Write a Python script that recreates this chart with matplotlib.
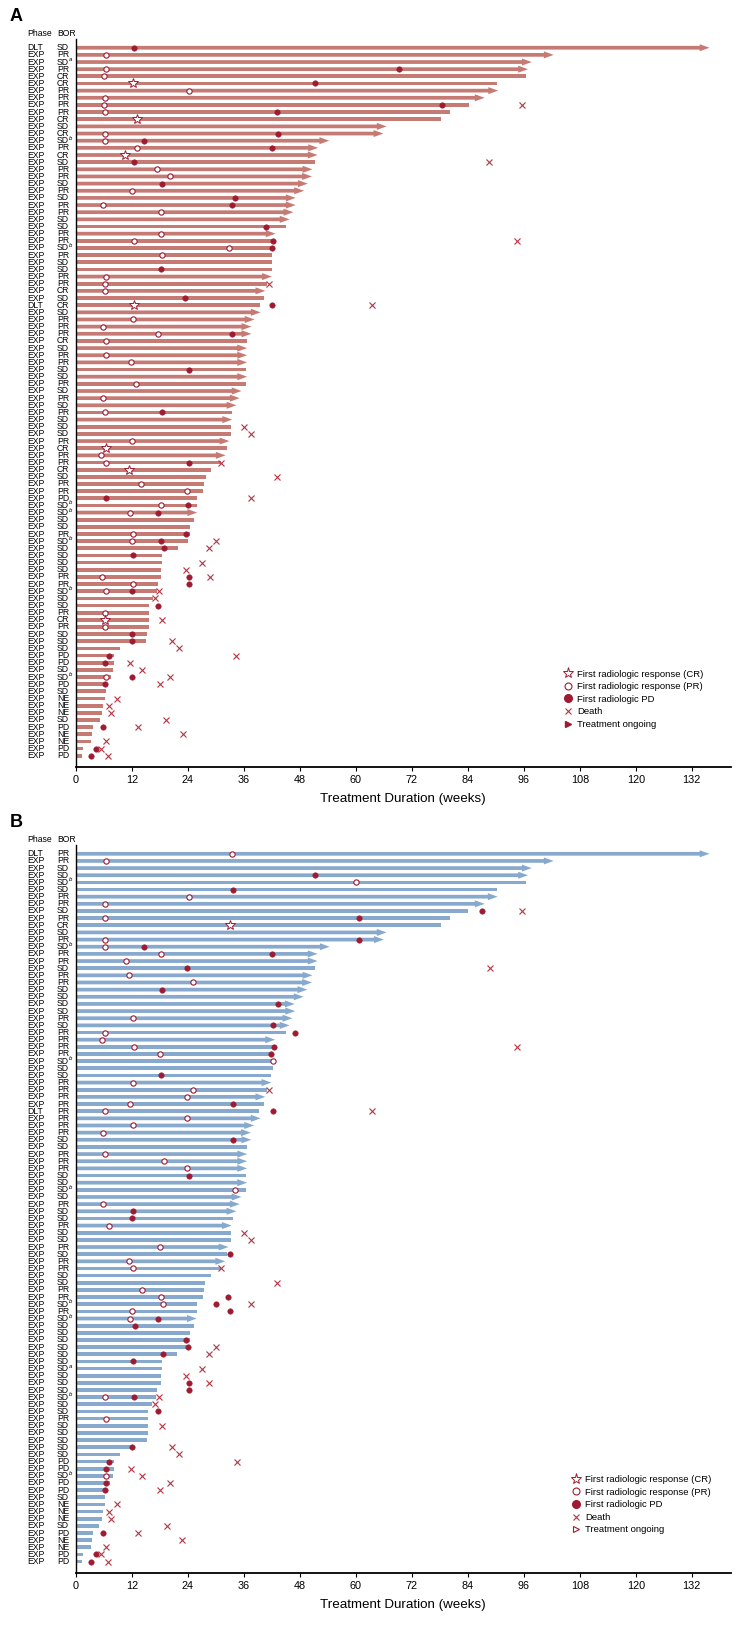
import numpy as np
import matplotlib
matplotlib.use('Agg')
import matplotlib.pyplot as plt
from matplotlib.lines import Line2D

plt.rcParams['font.family'] = ['Liberation Sans', 'DejaVu Sans']

#==========================================================================
# Data (rows top to bottom, weeks)
#==========================================================================

phase_a = ['DLT'] + ['EXP'] * 35 + ['DLT'] + ['EXP'] * 63
bor_a = ['SD', 'PR', 'SD^a', 'PR', 'CR', 'CR', 'PR', 'PR', 'PR', 'PR',
         'CR', 'SD', 'CR', 'SD^b', 'PR', 'CR', 'SD', 'PR', 'PR', 'SD',
         'PR', 'SD', 'PR', 'PR', 'SD', 'SD', 'PR', 'PR', 'SD^b', 'PR',
         'SD', 'SD', 'PR', 'PR', 'CR', 'SD', 'CR', 'SD', 'PR', 'PR',
         'PR', 'CR', 'SD', 'PR', 'PR', 'SD', 'SD', 'PR', 'SD', 'PR',
         'SD', 'PR', 'SD', 'SD', 'SD', 'PR', 'CR', 'PR', 'PR', 'CR',
         'SD', 'PR', 'PR', 'PD', 'SD^b', 'SD^b', 'SD', 'SD', 'PR', 'SD^b',
         'SD', 'SD', 'SD', 'SD', 'PR', 'PR', 'SD^b', 'SD', 'SD', 'PR',
         'CR', 'PR', 'SD', 'SD', 'SD', 'PD', 'PD', 'SD', 'SD^b', 'PD',
         'SD', 'NE', 'NE', 'NE', 'SD', 'PD', 'NE', 'NE', 'PD', 'PD']
dur_a = [135.8, 102.4, 97.7, 96.9, 96.4, 90.3, 90.5, 87.6, 84.2, 80.1,
         78.3, 66.6, 65.9, 54.3, 51.9, 51.8, 51.2, 50.7, 50.6, 49.7,
         48.9, 47.1, 47.1, 46.6, 45.8, 45.0, 42.8, 42.0, 41.9, 42.1,
         42.1, 42.0, 42.0, 41.0, 40.6, 40.4, 39.4, 39.6, 38.3, 37.6,
         37.6, 36.7, 36.7, 36.7, 36.7, 36.4, 36.7, 36.4, 35.5, 35.1,
         34.4, 33.5, 33.5, 33.2, 33.3, 32.9, 32.4, 32.1, 31.0, 28.9,
         27.8, 27.4, 27.2, 26.0, 25.9, 26.0, 25.4, 24.4, 24.4, 24.1,
         21.8, 18.4, 18.4, 18.3, 18.3, 17.5, 17.4, 16.6, 15.6, 15.6,
         15.6, 15.6, 15.3, 15.1, 9.4, 8.1, 8.1, 7.9, 7.5, 6.4,
         6.4, 6.3, 5.9, 5.5, 5.1, 3.6, 3.4, 3.2, 1.6, 1.4]
ongoing_a = [1, 1, 1, 1, 0, 0, 1, 1, 0, 0,
             0, 1, 1, 1, 1, 1, 0, 1, 1, 1,
             1, 1, 1, 1, 1, 0, 1, 0, 0, 0,
             0, 0, 1, 0, 1, 0, 0, 1, 1, 1,
             1, 0, 1, 1, 1, 0, 1, 0, 1, 1,
             1, 0, 1, 0, 0, 1, 0, 1, 0, 0,
             0, 0, 0, 0, 0, 1, 0, 0, 0, 0] + [0] * 30
# events keyed by row number (1 = top row)
cr_a = {6: 12.3, 11: 13.0, 16: 10.6, 37: 12.4, 57: 6.4, 60: 11.4, 81: 6.2}
pr_a = {2: 6.4, 4: 6.5, 5: 6.0, 7: 24.2, 8: 6.2, 9: 6.1, 10: 6.2, 13: 6.3,
        14: 6.2, 15: 13.2, 18: 17.4, 19: 20.1, 21: 12.1, 23: 5.8, 24: 18.3,
        27: 18.2, 28: 12.5, 29: 32.9, 30: 18.4, 33: 6.4, 34: 6.3, 35: 6.2,
        39: 12.3, 40: 5.8, 41: 17.6, 42: 6.5, 44: 6.4, 45: 11.9, 48: 12.8,
        50: 5.9, 52: 6.3, 56: 12.1, 58: 5.3, 59: 6.4, 62: 14.0, 63: 23.9,
        65: 18.2, 66: 11.6, 69: 12.2, 70: 12.1, 75: 5.5, 76: 12.2, 77: 6.4,
        80: 6.3, 82: 6.2, 89: 6.4}
pd_a = {1: 12.4, 4: 69.2, 6: 51.2, 9: 78.5, 10: 43.1, 13: 43.3, 14: 14.5,
        15: 42.1, 17: 12.4, 20: 18.4, 22: 34.1, 23: 33.5, 26: 40.8, 28: 42.3,
        29: 42.0, 32: 18.3, 36: 23.3, 37: 42.0, 41: 33.5, 46: 24.3, 52: 18.4,
        59: 24.2, 64: 6.5, 65: 24.1, 66: 17.6, 69: 23.7, 70: 18.3, 71: 18.8,
        72: 12.3, 75: 24.2, 76: 24.2, 77: 12.0, 79: 17.6, 83: 12.1, 84: 12.1,
        86: 7.2, 87: 6.3, 89: 12.1, 90: 6.2, 96: 5.9, 99: 4.3, 100: 3.3}
death_a = {9: 95.7, 17: 88.6, 28: 94.5, 34: 41.4, 37: 63.5, 54: 36.0, 55: 37.6,
           59: 31.2, 61: 43.1, 64: 37.6, 70: 30.1, 71: 28.5, 73: 27.0, 74: 23.6,
           75: 28.7, 77: 17.9, 78: 16.9, 81: 18.4, 84: 20.7, 85: 22.0, 86: 34.4,
           87: 11.7, 88: 14.1, 89: 20.1, 90: 18.1, 92: 8.8, 93: 7.2, 94: 7.5,
           95: 19.4, 96: 13.3, 97: 22.9, 98: 6.4, 99: 5.3, 100: 6.9}

phase_b = ['DLT'] + ['EXP'] * 35 + ['DLT'] + ['EXP'] * 63
bor_b = ['PR', 'PR', 'SD', 'SD', 'SD^b', 'SD', 'PR', 'PR', 'SD', 'PR',
         'CR', 'SD', 'PR', 'SD^b', 'PR', 'PR', 'SD', 'PR', 'PR', 'SD',
         'SD', 'SD', 'SD', 'PR', 'SD', 'PR', 'PR', 'PR', 'PR', 'SD^b',
         'SD', 'SD', 'PR', 'PR', 'PR', 'PR', 'PR', 'PR', 'PR', 'PR',
         'SD', 'SD', 'PR', 'PR', 'PR', 'SD', 'SD', 'SD^b', 'SD', 'PR',
         'SD', 'SD', 'PR', 'SD', 'SD', 'PR', 'SD', 'PR', 'PR', 'SD',
         'SD', 'PR', 'PR', 'SD^b', 'PR', 'SD^b', 'SD', 'SD', 'SD', 'SD',
         'SD', 'SD', 'SD^a', 'SD', 'SD', 'SD', 'SD^b', 'SD', 'SD', 'PR',
         'SD', 'SD', 'SD', 'SD', 'SD', 'PD', 'PD', 'SD^b', 'PD', 'PD',
         'SD', 'NE', 'NE', 'NE', 'SD', 'PD', 'NE', 'NE', 'PD', 'PD']
dur_b = [135.8, 102.4, 97.7, 96.9, 96.4, 90.3, 90.4, 87.6, 84.1, 80.1,
         78.2, 66.6, 66.0, 54.4, 51.8, 51.8, 51.3, 50.7, 50.6, 49.6,
         48.8, 46.9, 47.0, 46.4, 45.8, 45.0, 42.7, 42.2, 41.9, 42.2,
         42.3, 41.9, 41.9, 41.0, 40.6, 40.3, 39.3, 39.6, 38.2, 37.5,
         37.6, 36.6, 36.7, 36.7, 36.7, 36.4, 36.7, 36.4, 35.5, 35.1,
         34.4, 33.6, 33.4, 33.2, 33.2, 32.7, 32.4, 32.0, 31.0, 28.9,
         27.7, 27.4, 27.2, 26.0, 25.9, 25.9, 25.4, 24.4, 24.4, 24.1,
         21.7, 18.4, 18.4, 18.2, 18.2, 17.4, 17.2, 16.4, 15.5, 15.5,
         15.5, 15.5, 15.3, 12.3, 9.4, 8.1, 8.1, 7.9, 7.4, 6.3,
         6.3, 6.3, 5.9, 5.5, 4.9, 3.6, 3.4, 3.2, 1.6, 1.4]
ongoing_b = [1, 1, 1, 1, 0, 0, 1, 1, 0, 0,
             0, 1, 1, 1, 1, 1, 0, 1, 1, 1,
             1, 1, 1, 1, 1, 0, 1, 0, 0, 0,
             0, 0, 1, 0, 1, 0, 0, 1, 1, 1,
             1, 0, 1, 1, 1, 0, 1, 0, 1, 1,
             1, 0, 1, 0, 0, 1, 0, 1, 0, 0,
             0, 0, 0, 0, 0, 1, 0, 0, 0, 0] + [0] * 30
cr_b = {11: 33.0}
pr_b = {1: 33.5, 2: 6.4, 5: 60.1, 7: 24.2, 8: 6.2, 10: 6.2, 13: 6.2, 14: 6.2,
        15: 18.3, 16: 10.8, 18: 11.3, 19: 25.2, 24: 12.3, 26: 6.2, 27: 5.5,
        28: 12.4, 29: 18.0, 30: 42.3, 33: 12.2, 34: 25.2, 35: 23.9, 36: 11.7,
        37: 6.3, 38: 23.8, 39: 12.3, 40: 5.8, 43: 6.3, 44: 18.8, 45: 23.9,
        48: 34.1, 50: 5.8, 53: 7.0, 56: 18.1, 58: 11.3, 59: 12.3, 62: 14.1,
        63: 18.3, 64: 18.7, 65: 12.1, 66: 11.5, 77: 6.3, 80: 6.4, 88: 6.4}
pd_b = {4: 51.3, 6: 33.7, 9: 87.0, 10: 60.7, 13: 60.6, 14: 14.5, 15: 42.1,
        17: 23.9, 20: 18.4, 22: 43.3, 25: 42.2, 26: 47.0, 28: 42.4, 29: 41.9,
        32: 18.3, 36: 33.7, 37: 42.3, 41: 33.6, 46: 24.3, 51: 12.2, 52: 12.0,
        57: 33.1, 63: 32.7, 64: 30.0, 65: 33.0, 66: 17.7, 67: 12.6, 69: 23.5,
        70: 24.1, 71: 18.7, 72: 12.3, 75: 24.3, 76: 24.3, 77: 12.4, 79: 17.6,
        84: 12.1, 86: 7.1, 87: 6.4, 89: 6.4, 90: 6.2, 96: 5.9, 99: 4.3, 100: 3.3}
death_b = {9: 95.6, 17: 88.8, 28: 94.6, 34: 41.4, 37: 63.4, 54: 36.0, 55: 37.5,
           59: 31.1, 61: 43.1, 64: 37.6, 70: 30.1, 71: 28.5, 73: 27.0, 74: 23.6,
           75: 28.6, 77: 17.9, 78: 16.9, 81: 18.4, 84: 20.6, 85: 22.0, 86: 34.5,
           87: 11.8, 88: 14.1, 89: 20.1, 90: 18.1, 92: 8.9, 93: 7.1, 94: 7.5,
           95: 19.5, 96: 13.3, 97: 22.7, 98: 6.5, 99: 5.4, 100: 6.8}

xticks = list(range(0, 133, 12))
legend_labels = ['First radiologic response (CR)', 'First radiologic response (PR)',
                 'First radiologic PD', 'Death', 'Treatment ongoing']

#==========================================================================
# Styles
#==========================================================================

RED = '#9E1B32'
XRED = '#B8323F'
BAR_H = 0.52
HEAD_W = 0.98
HEAD_L = 2.1
LAB_FS = 6.2


def draw_panel(ax, phase, bor, dur, ongoing, cr, pr, pdd, death, color, open_arrow):
    n = len(dur)
    y = np.arange(n)
    dur = np.array(dur)
    ong = np.array(ongoing, dtype=bool)

    ax.barh(y[~ong], dur[~ong], height=BAR_H, color=color, lw=0, zorder=1)
    for yi, d in zip(y[ong], dur[ong]):
        ax.arrow(0, yi, d, 0, width=BAR_H, head_width=HEAD_W, head_length=HEAD_L,
                 length_includes_head=True, fc=color, ec='none', lw=0, zorder=1)

    def pts(d):
        return list(d.values()), [k - 1 for k in d.keys()]

    xs, ys = pts(pr)
    ax.plot(xs, ys, 'o', ms=3.8, mfc='white', mec=RED, mew=0.8, ls='none', zorder=3)
    xs, ys = pts(cr)
    ax.plot(xs, ys, '*', ms=7.5, mfc='white', mec=RED, mew=0.7, ls='none', zorder=3)
    xs, ys = pts(pdd)
    ax.plot(xs, ys, 'o', ms=4.0, mfc=RED, mec=RED, mew=0.3, ls='none', zorder=4)
    xs, ys = pts(death)
    ax.plot(xs, ys, 'x', ms=4.3, mec=XRED, mew=0.8, ls='none', zorder=4)

    tr = ax.get_yaxis_transform()
    x_ph = -0.0747
    x_bor = -0.0289
    for i in range(n):
        ax.text(x_ph, i, phase[i], transform=tr, fontsize=LAB_FS, ha='left', va='center')
        base, _, sup = bor[i].partition('^')
        ax.text(x_bor, i, base, transform=tr, fontsize=LAB_FS, ha='left', va='center')
        if sup:
            ax.annotate(sup, xy=(x_bor, i), xycoords=tr, xytext=(8.9, 1.8),
                        textcoords='offset points', fontsize=4.3, style='italic',
                        ha='left', va='center')
    ax.text(x_ph, -1.95, 'Phase', transform=tr, fontsize=LAB_FS, ha='left', va='center')
    ax.text(x_bor, -1.95, 'BOR', transform=tr, fontsize=LAB_FS, ha='left', va='center')

    ax.set_xlim(0, 140.3)
    ax.set_ylim(n - 1 + 1.54, -1.22)
    ax.set_xticks(xticks)
    ax.set_yticks([])
    ax.tick_params(axis='x', direction='out', length=3, width=0.8, labelsize=7.8, pad=3)
    for s in ['top', 'right']:
        ax.spines[s].set_visible(False)
    ax.spines['left'].set_linewidth(1.0)
    ax.spines['bottom'].set_linewidth(1.3)
    ax.set_xlabel('Treatment Duration (weeks)', fontsize=9.6, labelpad=6)

    if open_arrow:
        tri = Line2D([], [], marker='>', ms=5, mfc='white', mec=RED, mew=0.8, ls='none')
    else:
        tri = Line2D([], [], marker='>', ms=5, mfc=RED, mec=RED, ls='none')
    handles = [Line2D([], [], marker='*', ms=8, mfc='white', mec=RED, mew=0.7, ls='none'),
               Line2D([], [], marker='o', ms=5, mfc='white', mec=RED, mew=0.8, ls='none'),
               Line2D([], [], marker='o', ms=5.5, mfc=RED, mec=RED, ls='none'),
               Line2D([], [], marker='x', ms=5, mec=XRED, mew=0.8, ls='none'),
               tri]
    return handles


fig = plt.figure(figsize=(7.39, 16.39), dpi=100)
ax_a = fig.add_axes([0.1027, 0.5322, 0.8858, 0.4440])
ax_b = fig.add_axes([0.1027, 0.0405, 0.8858, 0.4439])

h_a = draw_panel(ax_a, phase_a, bor_a, dur_a, ongoing_a, cr_a, pr_a, pd_a, death_a,
                 '#C57A73', False)
h_b = draw_panel(ax_b, phase_b, bor_b, dur_b, ongoing_b, cr_b, pr_b, pd_b, death_b,
                 '#87A9CD', True)

leg_kw = dict(loc='upper left', frameon=False, fontsize=6.8, borderpad=0,
              borderaxespad=0, handlelength=1.0, handletextpad=0.5, labelspacing=0.38)
fig.legend(h_a, legend_labels, bbox_to_anchor=(0.7618, 0.5915), **leg_kw)
fig.legend(h_b, legend_labels, bbox_to_anchor=(0.773, 0.1000), **leg_kw)

fig.text(0.0135, 1 - 16.5 / 1639, 'A', fontsize=13, fontweight='bold', va='center', ha='left')
fig.text(0.0135, 1 - 823 / 1639, 'B', fontsize=13, fontweight='bold', va='center', ha='left')

fig.savefig('out.png', dpi=100)
